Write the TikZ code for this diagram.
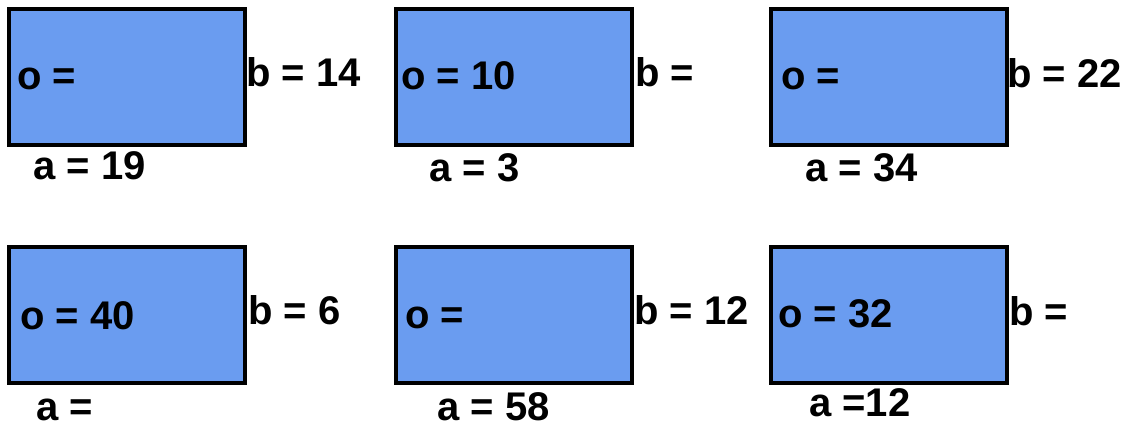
\documentclass[tikz,border=0pt]{standalone}
\usepackage{fontspec}
\setmainfont{Liberation Sans}
\usepackage{xcolor}
\usepackage{tikz}
\definecolor{boxblue}{HTML}{6A9CF0}
\definecolor{ink}{HTML}{000000}
\tikzset{
  box/.style={draw=ink,fill=boxblue,line width=3pt,minimum width=177pt,minimum height=102pt,inner sep=0pt,outer sep=0pt,anchor=north west},
  lbl/.style={font=\fontsize{30}{35}\selectfont\bfseries,text=ink,anchor=base west,inner sep=0pt},
}

\begin{document}
\begin{tikzpicture}[x=0.75pt,y=-0.75pt]
    \useasboundingbox (0,0) rectangle (1132,427);
    % top row
    \node[box] (box1) at (9,9.5) {};
    \node[box] (box2) at (396,9.5) {};
    \node[box] (box3) at (771,9.5) {};
    \node[lbl] (o1) at (17,90) {o =};
    \node[lbl] (b1) at (246,87) {b = 14};
    \node[lbl] (a1) at (33,180) {a = 19};
    \node[lbl] (o2) at (401,90) {o = 10};
    \node[lbl] (b2) at (635,87) {b =};
    \node[lbl] (a2) at (429,182) {a = 3};
    \node[lbl] (o3) at (781,90) {o =};
    \node[lbl] (b3) at (1007,88) {b = 22};
    \node[lbl] (a3) at (805,182) {a = 34};
    % bottom row
    \node[box] (box4) at (9,247) {};
    \node[box] (box5) at (396,247) {};
    \node[box] (box6) at (771,247) {};
    \node[lbl] (o4) at (20,330) {o = 40};
    \node[lbl] (b4) at (248,325) {b = 6};
    \node[lbl] (a4) at (36,421) {a =};
    \node[lbl] (o5) at (405,329) {o =};
    \node[lbl] (b5) at (634,325) {b = 12};
    \node[lbl] (a5) at (437,421) {a = 58};
    \node[lbl] (o6) at (778,328) {o = 32};
    \node[lbl] (b6) at (1009,326) {b =};
    \node[lbl] (a6) at (809,417) {a =12};
  \end{tikzpicture}
\end{document}
